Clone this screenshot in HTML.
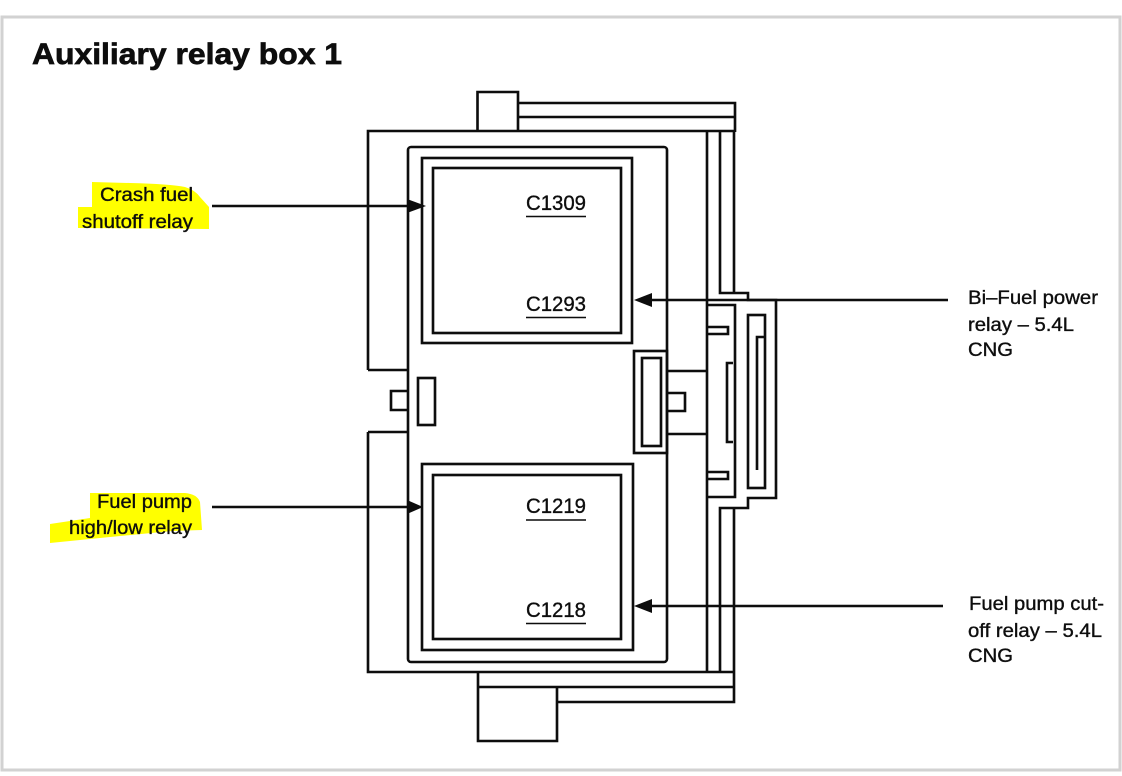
<!DOCTYPE html>
<html><head><meta charset="utf-8"><style>
html,body{margin:0;padding:0;background:#fff}
svg{display:block}
text{font-family:"Liberation Sans",sans-serif;fill:#0a0a0a;stroke:#0a0a0a;stroke-width:.35}
</style></head><body>
<svg width="1122" height="776" viewBox="0 0 1122 776" xmlns="http://www.w3.org/2000/svg">
<defs><filter id="s" filterUnits="userSpaceOnUse" x="0" y="0" width="1122" height="776"><feGaussianBlur stdDeviation=".35"/></filter></defs>
<rect width="1122" height="776" fill="#fff"/>
<rect x="2" y="17" width="1118" height="753" fill="#fff" stroke="#d2d2d2" stroke-width="3"/>
<path fill="#ffff00" d="M92 182L130 183Q170 184 185 187Q195 190 200 197L209 207L209 229L78 228L78 207L92 207Z"/>
<path fill="#ffff00" d="M90 493L185 493Q197 494 200 502L202 530L172 531L110 537L50 543L50 524L90 518Z"/>
<g filter="url(#s)">
<g fill="none" stroke="#0a0a0a" stroke-width="2.6" stroke-linejoin="miter">
<path d="M368 370V131H735M477.500 131V92H518V131"/>
<path d="M518 103H735V132M518 117H734M707 132V672M720 132V293H748V300H776V498H748V508H720V672M734 132V293M734 508V702H557"/>
<path d="M707 305H735V497H707"/>
<path d="M368 432V672H735M407 370H368M407 432H368"/>
<path d="M478 672V741H557V687M478 687H735"/>
<rect x="408" y="147" width="259" height="515" rx="3"/>
<rect x="422" y="158" width="210" height="185"/>
<rect x="433" y="168" width="188" height="165"/>
<rect x="422" y="464" width="211" height="186"/>
<rect x="433" y="475" width="188" height="164"/>
<path d="M407 391H391V410H407"/>
<rect x="418" y="378" width="17" height="47"/>
<rect x="634" y="351" width="33" height="102"/>
<rect x="642" y="358" width="19" height="88"/>
<path d="M667 371H707M667 434H707M668 393H685V411H668"/>
<rect x="748" y="315" width="17" height="173"/>
<path d="M757 470V337H765"/>
<path d="M707 327H728V334H707M707 472H728V479H707"/>
<path d="M733 363H727V442H733"/>
</g>
<g stroke="#0a0a0a" stroke-width="2.4" fill="#0a0a0a">
<path d="M212 206H410" fill="none"/>
<path d="M407 199L426 206L407 213Z" stroke="none"/>
<path d="M212 507H410" fill="none"/>
<path d="M407 500L423 507L407 514Z" stroke="none"/>
<path d="M650 300H948" fill="none"/>
<path d="M634 300L652 293L652 307Z" stroke="none"/>
<path d="M650 606H943" fill="none"/>
<path d="M634 606L652 599L652 613Z" stroke="none"/>
<path d="M526 216.500H586M526 317.500H586M526 520H586M526 623.500H586" fill="none" stroke-width="1.500"/>
</g>
<text x="32" y="64" font-size="30" font-weight="700" textLength="310" lengthAdjust="spacingAndGlyphs" style="stroke-width:.7">Auxiliary relay box 1</text>
<g font-size="19">
<text x="100" y="201" textLength="93" lengthAdjust="spacingAndGlyphs">Crash fuel</text>
<text x="82" y="228" textLength="111" lengthAdjust="spacingAndGlyphs">shutoff relay</text>
<text x="97" y="508" textLength="95" lengthAdjust="spacingAndGlyphs">Fuel pump</text>
<text x="69" y="534" textLength="123" lengthAdjust="spacingAndGlyphs">high/low relay</text>
<text x="526" y="210" font-size="21" textLength="60" lengthAdjust="spacingAndGlyphs">C1309</text>
<text x="526" y="311" font-size="21" textLength="60" lengthAdjust="spacingAndGlyphs">C1293</text>
<text x="526" y="513" font-size="21" textLength="60" lengthAdjust="spacingAndGlyphs">C1219</text>
<text x="526" y="617" font-size="21" textLength="60" lengthAdjust="spacingAndGlyphs">C1218</text>
<text x="968" y="304" textLength="130" lengthAdjust="spacingAndGlyphs">Bi–Fuel power</text>
<text x="968" y="331" textLength="106" lengthAdjust="spacingAndGlyphs">relay – 5.4L</text>
<text x="968" y="356" textLength="45" lengthAdjust="spacingAndGlyphs">CNG</text>
<text x="969" y="610" textLength="135" lengthAdjust="spacingAndGlyphs">Fuel pump cut-</text>
<text x="968" y="637" textLength="134" lengthAdjust="spacingAndGlyphs">off relay – 5.4L</text>
<text x="968" y="662" textLength="45" lengthAdjust="spacingAndGlyphs">CNG</text>
</g>
</g>
</svg>
</body></html>
